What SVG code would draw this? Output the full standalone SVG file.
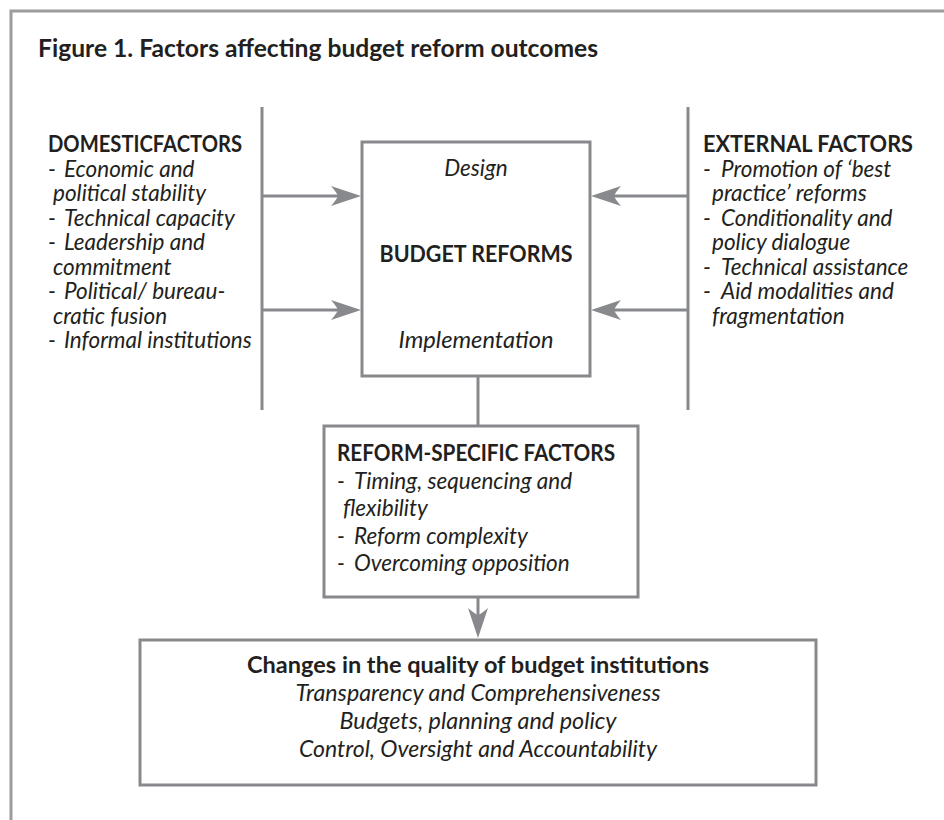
<svg xmlns="http://www.w3.org/2000/svg" width="944" height="820" viewBox="0 0 944 820">
  <defs>
    <style>
      .frame { fill: none; stroke: #9c9c9e; stroke-width: 3; }
      .box { fill: #ffffff; stroke: #88898c; stroke-width: 3; }
      .wire { fill: none; stroke: #88898c; stroke-width: 3; }
      .head-fill { fill: #88898c; }
      text { font-family: Lato, "Open Sans", "Liberation Sans", sans-serif; fill: #231f20; }
      .title { font-size: 24px; font-weight: 700; }
      .hd { font-size: 23px; font-weight: 700; }
      .it { font-size: 22.5px; font-style: italic; }
      .mid { text-anchor: middle; }
    </style>
    <!-- barbed arrowhead, tip at the origin, pointing along +x -->
    <path id="ah" d="M0,0 L-30,-10 Q-24,-3 -23,0 Q-24,3 -30,10 Z"/>
  </defs>

  <!-- page frame (open at right and bottom) -->
  <path class="frame" d="M11,820 V11 H944"/>

  <text class="title" x="38" y="57" textLength="560" lengthAdjust="spacingAndGlyphs">Figure 1. Factors affecting budget reform outcomes</text>

  <!-- connectors -->
  <g id="connectors">
    <line class="wire" x1="262" y1="107" x2="262" y2="410"/>
    <line class="wire" x1="688" y1="107" x2="688" y2="410"/>
    <line class="wire" x1="262" y1="196" x2="345" y2="196"/>
    <line class="wire" x1="262" y1="310" x2="345" y2="310"/>
    <line class="wire" x1="688" y1="196" x2="606" y2="196"/>
    <line class="wire" x1="688" y1="310" x2="606" y2="310"/>
    <line class="wire" x1="478" y1="376" x2="478" y2="426"/>
    <line class="wire" x1="478" y1="597" x2="478" y2="620"/>
    <use href="#ah" class="head-fill" transform="translate(361,196)"/>
    <use href="#ah" class="head-fill" transform="translate(361,310)"/>
    <use href="#ah" class="head-fill" transform="translate(591,196) rotate(180)"/>
    <use href="#ah" class="head-fill" transform="translate(591,310) rotate(180)"/>
    <use href="#ah" class="head-fill" transform="translate(478,638) rotate(90)"/>
  </g>

  <g id="domestic-factors">
    <text class="hd" x="48" y="152" textLength="194" lengthAdjust="spacingAndGlyphs">DOMESTICFACTORS</text>
    <text class="it" y="176.5"><tspan x="48">-</tspan><tspan x="64">Economic and</tspan></text>
    <text class="it" x="53" y="201">political stability</text>
    <text class="it" y="225.5"><tspan x="48">-</tspan><tspan x="64">Technical capacity</tspan></text>
    <text class="it" y="250"><tspan x="48">-</tspan><tspan x="64">Leadership and</tspan></text>
    <text class="it" x="53" y="274.5">commitment</text>
    <text class="it" y="299"><tspan x="48">-</tspan><tspan x="64">Political/ bureau-</tspan></text>
    <text class="it" x="53" y="323.5">cratic fusion</text>
    <text class="it" y="348"><tspan x="48">-</tspan><tspan x="64">Informal institutions</tspan></text>
  </g>

  <g id="budget-reforms">
    <rect class="box" x="362" y="142" width="228" height="234"/>
    <text class="it mid" x="476" y="176">Design</text>
    <text class="hd mid" x="476" y="262" textLength="193" lengthAdjust="spacingAndGlyphs">BUDGET REFORMS</text>
    <text class="it mid" x="476" y="348" textLength="155" lengthAdjust="spacingAndGlyphs">Implementation</text>
  </g>

  <g id="external-factors">
    <text class="hd" x="703" y="152" textLength="210" lengthAdjust="spacingAndGlyphs">EXTERNAL FACTORS</text>
    <text class="it" y="176.5"><tspan x="703">-</tspan><tspan x="721">Promotion of ‘best</tspan></text>
    <text class="it" x="712" y="201">practice’ reforms</text>
    <text class="it" y="225.5"><tspan x="703">-</tspan><tspan x="721">Conditionality and</tspan></text>
    <text class="it" x="712" y="250">policy dialogue</text>
    <text class="it" y="274.5"><tspan x="703">-</tspan><tspan x="721">Technical assistance</tspan></text>
    <text class="it" y="299"><tspan x="703">-</tspan><tspan x="721">Aid modalities and</tspan></text>
    <text class="it" x="712" y="323.5">fragmentation</text>
  </g>

  <g id="reform-specific-factors">
    <rect class="box" x="324" y="426" width="314" height="171"/>
    <text class="hd" x="337" y="461" textLength="278" lengthAdjust="spacingAndGlyphs">REFORM-SPECIFIC FACTORS</text>
    <text class="it" y="488.5"><tspan x="337">-</tspan><tspan x="354">Timing, sequencing and</tspan></text>
    <text class="it" x="343" y="516">flexibility</text>
    <text class="it" y="543.5"><tspan x="337">-</tspan><tspan x="354">Reform complexity</tspan></text>
    <text class="it" y="571"><tspan x="337">-</tspan><tspan x="354">Overcoming opposition</tspan></text>
  </g>

  <g id="budget-institutions">
    <rect class="box" x="140" y="640" width="676" height="145"/>
    <text class="hd mid" x="478" y="673" textLength="462" lengthAdjust="spacingAndGlyphs">Changes in the quality of budget institutions</text>
    <text class="it mid" x="478" y="701" textLength="365" lengthAdjust="spacingAndGlyphs">Transparency and Comprehensiveness</text>
    <text class="it mid" x="478" y="729" textLength="277" lengthAdjust="spacingAndGlyphs">Budgets, planning and policy</text>
    <text class="it mid" x="478" y="757" textLength="358" lengthAdjust="spacingAndGlyphs">Control, Oversight and Accountability</text>
  </g>
</svg>
